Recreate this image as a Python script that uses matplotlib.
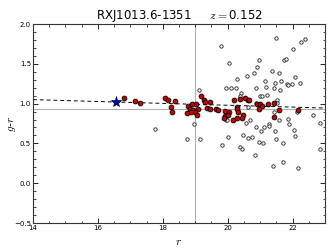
import numpy as np
import matplotlib
matplotlib.use("Agg")
import matplotlib.pyplot as plt

plt.rcParams['mathtext.fontset'] = 'cm'

# red sequence members (r, g-r)
red_r = [16.80, 17.14, 17.30, 18.07, 18.15, 18.38, 18.24, 18.29,
         18.79, 18.89, 19.02, 18.84, 18.94, 19.08, 19.00, 18.76, 18.86, 19.05,
         19.18, 19.27, 19.30, 19.46, 19.35, 19.44, 19.64, 19.71, 19.92, 20.05,
         19.92, 20.02, 19.88,
         20.20, 20.38, 20.52, 20.62, 20.67,
         20.28, 20.30, 20.33, 20.46, 20.30, 20.45, 20.17,
         20.90, 21.00, 21.05, 20.97,
         21.25, 21.43, 21.59, 21.44, 22.18]
red_gr = [1.07, 1.03, 1.01, 1.07, 1.05, 1.03, 0.96, 0.90,
          0.97, 0.99, 0.99, 0.93, 0.92, 0.93, 0.89, 0.88, 0.89, 0.86,
          1.10, 1.05, 1.02, 1.02, 0.95, 0.93, 0.93, 0.92, 0.91, 0.90,
          0.85, 0.86, 0.82,
          1.05, 1.06, 1.07, 1.05, 1.04,
          0.96, 0.93, 0.90, 0.86, 0.82, 0.82, 0.80,
          0.99, 1.00, 0.97, 0.93,
          1.00, 1.01, 0.92, 0.83, 0.92]

# other galaxies in the field
oth_r = [17.75, 18.97, 18.74, 19.15, 19.13, 19.82, 20.00, 19.95, 19.97,
         19.80, 21.49, 22.38, 22.27, 22.02, 20.04, 20.95, 20.90, 20.82,
         21.73, 21.80, 21.38, 21.59, 20.61, 20.28, 22.06, 21.16, 21.46,
         21.64, 21.82, 21.87, 21.97, 22.23, 19.94, 20.10, 20.25, 20.87,
         21.17, 21.44, 21.62, 20.40, 20.38, 21.00, 21.07, 21.22, 21.52,
         21.53, 20.86, 20.62, 22.13, 21.43, 21.59, 20.69, 20.56, 20.87,
         21.02, 21.12, 21.27, 21.27, 21.90, 22.05, 22.08, 22.64, 22.85,
         21.87, 20.46, 20.64, 20.74, 20.95, 21.10, 21.46, 21.49, 21.70,
         20.38, 20.43, 20.83, 21.72, 21.39, 22.18, 22.83]
oth_gr = [0.68, 0.75, 0.55, 0.55, 1.17, 0.48, 0.58, 0.79, 0.80,
          1.72, 1.82, 1.81, 1.78, 1.69, 1.51, 1.55, 1.46, 1.38,
          1.55, 1.56, 1.41, 1.38, 1.35, 1.31, 1.34, 1.28, 1.26,
          1.29, 1.24, 1.23, 1.25, 1.26, 1.20, 1.19, 1.19, 1.19,
          1.21, 1.20, 1.17, 1.13, 1.10, 1.10, 1.10, 1.11, 1.05,
          1.01, 1.01, 0.96, 0.90, 0.89, 0.80, 0.79, 0.76, 0.71,
          0.65, 0.70, 0.74, 0.72, 0.75, 0.67, 0.59, 0.86, 0.76,
          0.81, 0.61, 0.57, 0.58, 0.52, 0.51, 0.65, 0.55, 0.51,
          0.46, 0.43, 0.35, 0.27, 0.22, 0.19, 0.43]

bcg_r, bcg_gr = 16.55, 1.02
rs_r = [14.0, 23.0]      # red-sequence fit ends
rs_gr = [1.05, 0.944]
r_cut = 19.0
gr_ref = 0.93

fig = plt.figure(figsize=(3.32, 2.49), dpi=100)
ax = fig.add_axes([0.0994, 0.1044, 0.8796, 0.7992])

ax.axvline(r_cut, color='#b0b0b0', lw=0.8, zorder=1)
ax.axhline(gr_ref, color='#b0b0b0', lw=0.8, zorder=1)
ax.plot(rs_r, rs_gr, ls='--', color='k', lw=0.7, dashes=(4, 3), zorder=2)

ax.scatter(oth_r, oth_gr, s=6, facecolors='white', edgecolors='#222222', linewidths=0.6, zorder=3)
ax.scatter(red_r, red_gr, s=12, facecolors='#cc0000', edgecolors='k', linewidths=0.6, zorder=4)
ax.plot(bcg_r, bcg_gr, marker='*', ms=8, color='#0000dd', mec='k', mew=0.5, zorder=5)

ax.set_xlim(14, 23)
ax.set_ylim(-0.5, 2.0)
ax.set_xticks([14, 16, 18, 20, 22])
ax.set_xticks(np.arange(14, 23.01, 0.5), minor=True)
ax.set_yticks([-0.5, 0.0, 0.5, 1.0, 1.5, 2.0])
ax.set_yticks(np.arange(-0.5, 2.01, 0.1), minor=True)
ax.tick_params(which='both', direction='in', top=True, right=True, labelsize=5, pad=1.5)
ax.tick_params(which='major', length=3.5, width=0.6)
ax.tick_params(which='minor', length=1.8, width=0.5)
for sp in ax.spines.values():
    sp.set_linewidth(0.8)
    sp.set_color('#333333')

ax.set_xlabel('$r$', fontsize=8.5, labelpad=3)
ax.set_ylabel('$g$-$r$', fontsize=8)
ax.yaxis.set_label_coords(-0.05, 0.5)
ax.set_title('RXJ1013.6-1351     $z=$0.152', fontsize=8.5, pad=2)

fig.savefig('out.png', dpi=100)
